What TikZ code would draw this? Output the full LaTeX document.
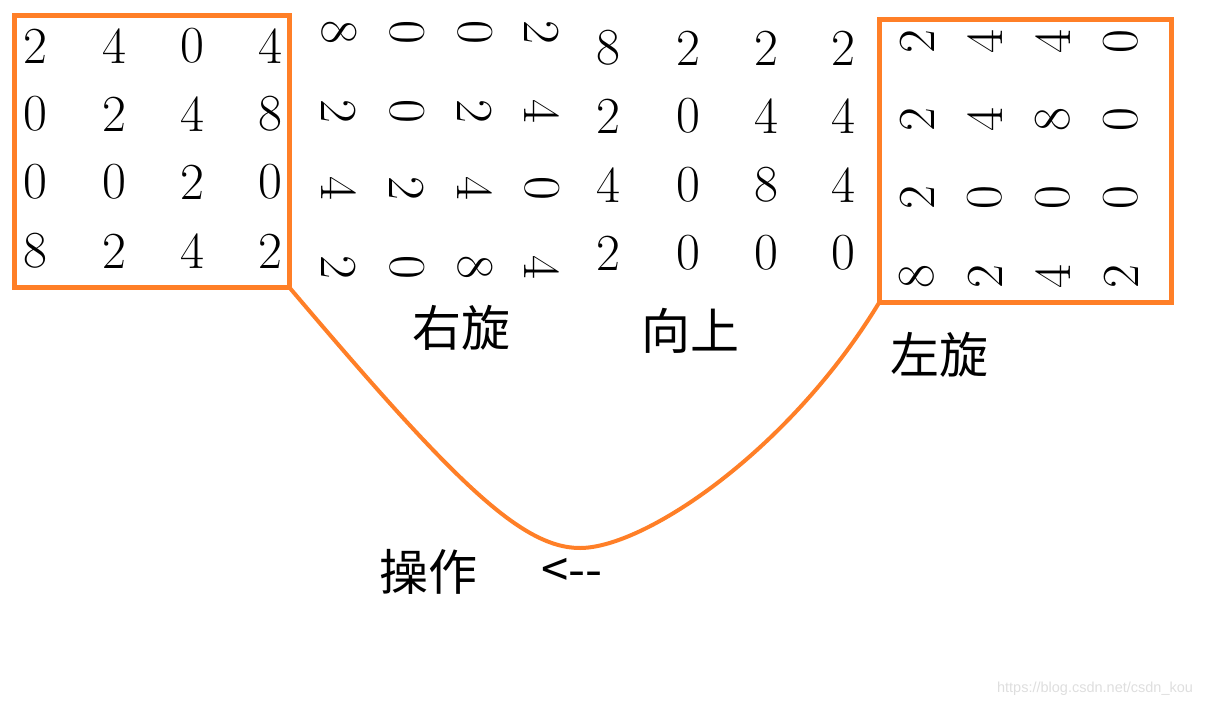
\documentclass[tikz,border=0pt]{standalone}
\usepackage{fontspec}
\newfontfamily\cjkfont{Noto Sans CJK SC}
\newfontfamily\wmfont{Liberation Sans}
\definecolor{boxorange}{RGB}{255,127,39}
\begin{document}
\begin{tikzpicture}[x=1pt,y=-1pt,
  digit/.style={inner sep=0pt, font=\fontsize{52}{52}\selectfont},
  rdigit/.style={digit, rotate=-90},
  ldigit/.style={digit, rotate=90},
  framebox/.style={draw=boxorange, line width=5pt, inner sep=0pt, outer sep=0pt},
  link/.style={draw=boxorange, line width=4pt},
  cjklabel/.style={font=\cjkfont\fontsize{49}{49}\selectfont, inner sep=0pt},
  watermark/.style={font=\wmfont\fontsize{14.5}{14.5}\selectfont, text=black!13, inner sep=0pt}]
\useasboundingbox (0,0) rectangle (1210,707);

% grid 1 (original)
\foreach \y/\p/\q/\s/\t [count=\i] in {46/2/4/0/4, 114/0/2/4/8, 182/0/0/2/0, 251/8/2/4/2}{
  \node[digit] (a\i1) at (35,\y) {\p};
  \node[digit] (a\i2) at (114,\y) {\q};
  \node[digit] (a\i3) at (192,\y) {\s};
  \node[digit] (a\i4) at (270,\y) {\t};
}
% grid 2 (rotated right)
\foreach \y/\p/\q/\s/\t [count=\i] in {32/8/0/0/2, 111/2/0/2/4, 188/4/2/4/0, 267/2/0/8/4}{
  \node[rdigit] (b\i1) at (339,\y) {\p};
  \node[rdigit] (b\i2) at (407,\y) {\q};
  \node[rdigit] (b\i3) at (475,\y) {\s};
  \node[rdigit] (b\i4) at (542,\y) {\t};
}
% grid 3 (moved up)
\foreach \y/\p/\q/\s/\t [count=\i] in {48/8/2/2/2, 116/2/0/4/4, 185/4/0/8/4, 253/2/0/0/0}{
  \node[digit] (c\i1) at (608,\y) {\p};
  \node[digit] (c\i2) at (688,\y) {\q};
  \node[digit] (c\i3) at (766,\y) {\s};
  \node[digit] (c\i4) at (843,\y) {\t};
}
% grid 4 (rotated left)
\foreach \y/\p/\q/\s/\t [count=\i] in {42/2/4/4/0, 120/2/4/8/0, 198/2/0/0/0, 277/8/2/4/2}{
  \node[ldigit] (d\i1) at (917,\y) {\p};
  \node[ldigit] (d\i2) at (985,\y) {\q};
  \node[ldigit] (d\i3) at (1053,\y) {\s};
  \node[ldigit] (d\i4) at (1121,\y) {\t};
}

% frames
\node[framebox, minimum width=274.5pt, minimum height=271.5pt] (box1) at (151.75,151.25) {};
\node[framebox, minimum width=291.5pt, minimum height=282.5pt] (box4) at (1025.25,160.75) {};

% labels
\node[cjklabel] (lright) at (461,328) {右旋};
\node[cjklabel] (lup) at (690,331) {向上};
\node[cjklabel] (lleft) at (939,355) {左旋};
\node[cjklabel] (lop) at (428,572) {操作};
\node[cjklabel] (larrow) at (572,573) {<-{}-};

% connecting curve
\coordinate (dip) at (580,548);
\draw[link] (box1.south east) .. controls (451,478) and (520,548) .. (dip)
            .. controls (645,548) and (790,450) .. (box4.south west);

% watermark
\node[watermark] (wm) at (1095,689) {https://blog.csdn.net/csdn\_kou};
\end{tikzpicture}
\end{document}
